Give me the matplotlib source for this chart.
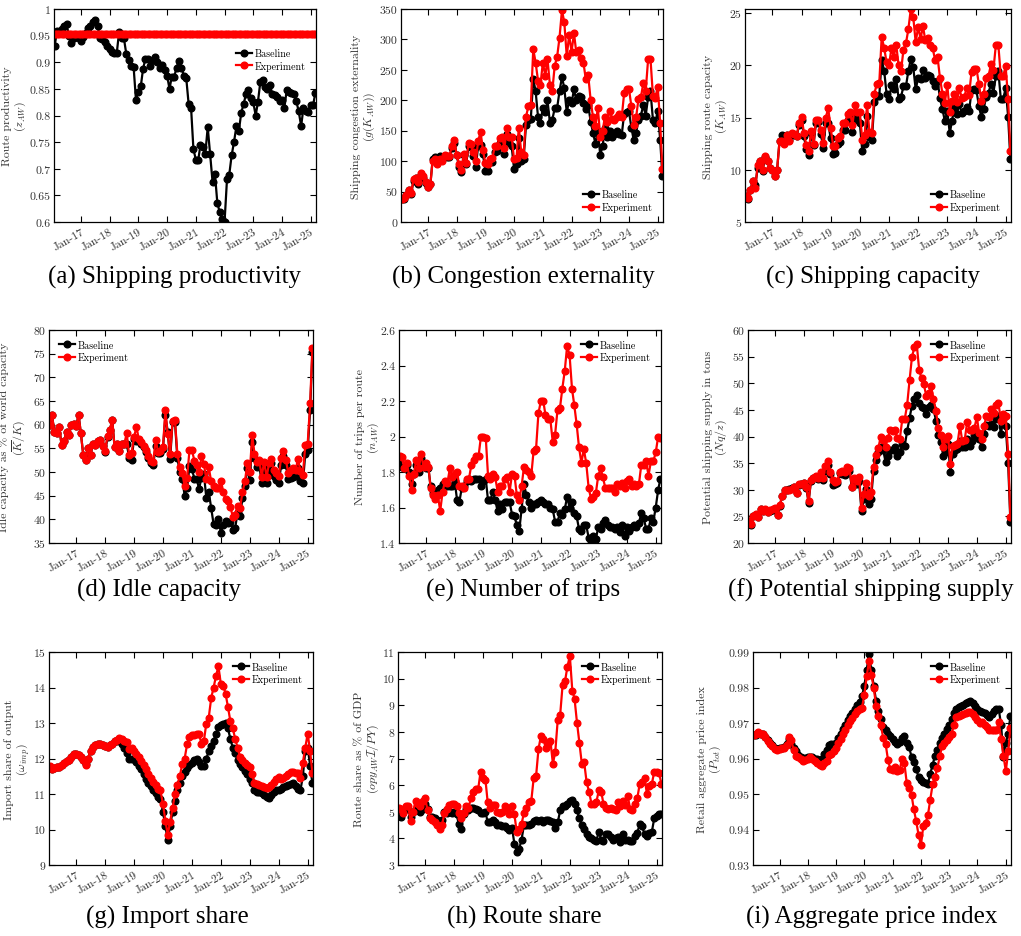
import matplotlib
matplotlib.use("Agg")
import matplotlib.pyplot as plt
import matplotlib.dates as mdates
from matplotlib.ticker import FuncFormatter, MultipleLocator
import pandas as pd

plt.rcParams['mathtext.fontset'] = 'cm'
plt.rcParams['font.family'] = ['cmr10', 'DejaVu Serif']
plt.rcParams['axes.formatter.use_mathtext'] = True
plt.rcParams['axes.unicode_minus'] = False

START = '2016-02-01'

# ---------------- data (monthly, Feb-2016 .. Mar-2025) ----------------
a_base = [0.930,0.958,0.955,0.962,0.968,0.972,0.950,0.936,0.945,0.950,
          0.945,0.940,0.948,0.955,0.965,0.968,0.975,0.980,0.968,0.945,
          0.943,0.938,0.930,0.925,0.920,0.918,0.917,0.957,0.945,0.945,
          0.915,0.905,0.893,0.892,0.830,0.845,0.855,0.887,0.907,0.907,
          0.893,0.905,0.910,0.900,0.890,0.895,0.885,0.875,0.850,0.873,
          0.873,0.890,0.903,0.890,0.875,0.870,0.822,0.815,0.737,0.717,
          0.717,0.745,0.740,0.728,0.778,0.728,0.676,0.690,0.636,0.618,
          0.605,0.600,0.680,0.688,0.725,0.750,0.780,0.770,0.805,0.822,
          0.840,0.848,0.832,0.825,0.800,0.825,0.863,0.866,0.853,0.850,
          0.858,0.840,0.838,0.835,0.828,0.830,0.815,0.847,0.845,0.843,
          0.840,0.827,0.808,0.780,0.815,0.808,0.806,0.820,0.820,0.843]
a_exp_level = 0.953
a_exp = [a_exp_level] * len(a_base)

b_base = [37,38,44,52,46,68,72,63,78,73,
          64,58,62,103,107,97,108,103,108,106,
          106,122,130,110,90,82,110,95,125,123,
          108,90,125,127,112,84,83,100,98,115,
          117,130,133,112,145,130,125,87,95,138,
          100,103,160,168,170,235,215,172,163,188,
          180,200,163,168,187,187,215,238,220,180,
          200,195,218,200,207,205,195,185,192,165,
          147,128,150,110,125,155,140,150,140,145,
          150,145,143,178,180,182,155,135,146,168,
          175,192,175,205,215,168,163,183,135,76]
b_exp = [38,40,45,53,47,70,73,65,80,75,
         65,57,63,100,103,96,103,100,110,108,
         108,125,135,110,95,85,112,97,130,128,
         115,100,133,148,118,97,95,103,105,125,
         125,138,140,122,155,140,140,103,105,155,
         115,110,173,190,192,284,262,232,225,262,
         240,268,225,215,257,271,303,348,328,272,
         307,280,310,280,283,270,262,235,241,200,
         172,157,188,140,150,173,165,183,170,168,
         173,178,172,212,218,219,190,160,172,202,
         205,228,215,268,268,207,204,222,163,87]

c_base = [7.5,7.2,8.1,8.9,8.5,10.2,10.8,9.9,11.2,10.8,
          10.2,10.0,9.4,10.0,12.8,13.3,13.2,13.3,12.9,13.4,
          13.3,13.2,14.3,14.8,13.2,12.0,11.4,13.5,12.4,14.5,
          14.6,13.4,12.1,14.5,14.5,13.0,11.5,11.6,12.5,12.7,
          13.8,13.8,14.8,15.0,13.6,15.2,14.8,14.5,11.8,12.5,
          15.2,13.1,12.9,16.5,17.1,17.1,20.5,19.5,17.3,16.8,
          18.1,17.7,18.7,16.8,17.0,18.0,18.0,19.5,20.6,19.8,
          17.7,18.8,18.7,19.6,18.8,19.1,19.0,18.5,18.0,18.5,
          16.9,15.8,14.7,15.6,13.5,14.7,16.0,15.3,16.3,15.4,
          15.6,16.0,15.6,17.6,17.7,17.6,16.1,15.1,15.8,17.0,
          17.4,18.2,17.4,19.0,19.5,16.8,16.8,17.8,15.1,11.0]
c_exp = [7.5,7.3,8.1,8.9,8.3,10.5,10.8,10.0,11.3,10.8,
         10.2,10.0,9.4,10.0,12.8,12.8,12.5,13.3,12.8,13.5,
         13.4,13.2,14.5,15.1,13.5,12.4,11.8,13.7,12.5,14.8,
         14.8,13.8,12.6,15.0,15.9,14.0,12.3,12.3,13.0,13.2,
         14.5,14.5,15.3,15.5,14.3,16.2,15.5,15.5,12.9,13.3,
         16.2,13.6,13.5,17.3,18.2,18.3,22.7,21.7,20.3,20.0,
         21.7,20.8,22.0,20.0,19.5,21.5,22.1,23.5,25.4,24.6,
         22.2,23.7,22.5,23.8,22.4,22.6,22.0,21.7,20.5,20.8,
         18.8,17.3,16.4,18.1,15.5,16.6,17.3,16.5,17.8,16.9,
         17.0,17.8,17.2,19.4,19.7,19.7,18.2,16.6,17.3,18.8,
         19.0,20.1,19.6,22.0,22.0,19.0,19.0,19.9,16.8,11.8]

d_base = [60,62,58.5,58.3,59.6,55.6,56.5,58.5,57.8,60,
          60.2,59.8,62,58.2,53.5,52.6,55,53.6,56,55.8,
          56.5,56.8,55.5,54.2,57.3,58.8,61,55.2,56,54.5,
          56,56,56,53,52.6,57,56.5,56.5,56,55.2,
          54.3,53,52,51.5,55.5,54,54,54.8,62,58.5,
          52.8,60.5,60.5,53,50,48.5,45,46.6,51.2,50.6,
          48.6,48.6,46.4,48.8,49.6,44.6,45.8,42.4,39,38.9,
          40,37.2,38.8,39.6,39.3,39.5,37.8,38.2,41.5,40.7,
          44.6,47,50.8,48.4,56.4,53,51.1,51.5,47.6,51,
          47.6,50,52,49.1,48.3,47.6,51.4,53.4,51.5,48.6,
          48.8,49,49.2,50.8,48,47.6,53.8,54.6,63.2,75.4]
d_exp = [60,62,58.5,58.3,59.6,55.6,56.5,58.5,57.8,60,
         60.2,59.8,62,58.2,53.5,52.6,55,53.6,56,55.8,
         56.5,56.8,55.5,54.5,57.6,58.8,61,55.2,56,54.5,
         56,56,58.2,53.5,54,57.3,59.6,57,56.3,55.5,
         54.6,53.3,52.4,52.1,56.8,54.2,54.5,55.2,63,58,
         53.8,60.7,61,53.8,51,49.8,47,48.8,54.6,54.6,
         52.4,51.5,50,53.3,51.7,48.5,51,48,47,46.6,
         46.6,48.2,45.8,44.2,43.8,42.7,40.5,41,42.9,42.5,
         45.8,48,51.8,50,57.8,53.9,52.2,52.5,49,52.2,
         48.9,51.8,52.7,50.4,49.8,49.2,52.9,54.4,52.5,49.8,
         50.4,50.8,50.5,52.7,50.2,49.3,55.6,56,64.5,76.2]

e_base = [1.88,1.83,1.82,1.84,1.80,1.73,1.79,1.84,1.80,1.88,
          1.84,1.82,1.82,1.72,1.68,1.68,1.70,1.71,1.73,1.73,
          1.72,1.72,1.72,1.75,1.64,1.63,1.71,1.72,1.75,1.76,
          1.75,1.76,1.76,1.76,1.72,1.75,1.76,1.64,1.64,1.69,
          1.64,1.58,1.62,1.59,1.63,1.63,1.63,1.56,1.55,1.50,
          1.47,1.59,1.73,1.67,1.63,1.60,1.62,1.62,1.63,1.64,
          1.63,1.62,1.62,1.60,1.59,1.52,1.52,1.57,1.56,1.59,
          1.66,1.60,1.63,1.57,1.55,1.48,1.47,1.50,1.50,1.43,
          1.41,1.44,1.42,1.49,1.48,1.51,1.53,1.50,1.49,1.49,
          1.48,1.49,1.46,1.50,1.44,1.49,1.47,1.49,1.50,1.49,
          1.51,1.57,1.54,1.48,1.48,1.54,1.52,1.60,1.70,1.76]
e_exp = [1.89,1.885,1.82,1.85,1.78,1.70,1.79,1.87,1.82,1.90,
         1.83,1.85,1.83,1.71,1.67,1.65,1.67,1.58,1.69,1.75,
         1.74,1.82,1.77,1.79,1.80,1.72,1.72,1.71,1.76,1.76,
         1.84,1.87,1.89,1.89,2.00,2.00,1.99,1.78,1.76,1.79,
         1.77,1.69,1.72,1.72,1.76,1.77,1.69,1.79,1.78,1.67,
         1.64,1.72,1.83,1.81,1.80,1.78,1.92,1.93,2.13,2.20,
         2.20,2.12,2.10,2.10,1.97,2.01,2.15,2.16,2.27,2.37,
         2.51,2.46,2.27,2.18,2.07,1.94,1.85,1.93,1.85,1.71,
         1.65,1.66,1.68,1.78,1.82,1.77,1.71,1.71,1.71,1.71,
         1.69,1.73,1.72,1.74,1.71,1.75,1.76,1.72,1.73,1.72,
         1.73,1.84,1.84,1.86,1.78,1.86,1.86,1.91,2.00,1.99]

f_base = [24.0,23.3,25.0,25.2,24.8,26.3,26.1,26.2,25.8,26.0,
          26.2,26.4,25.2,27.0,28.8,30.0,30.0,30.2,30.4,30.6,
          29.3,30.9,31.0,31.2,30.4,27.6,31.7,32.2,32.4,32.1,
          32.6,31.8,33.6,34.6,32.9,30.8,31.0,31.2,33.2,32.9,
          32.8,33.6,33.5,30.5,31.0,31.0,31.6,26.0,28.3,30.2,
          27.3,28.3,33.6,35.6,37.0,38.0,37.5,35.2,36.3,37.5,
          37.5,38.0,36.4,37.0,38.5,38.2,41.0,43.5,45.8,47.1,
          47.8,46.3,45.5,45.4,44.2,45.5,46.0,45.2,43.0,40.3,
          39.0,36.4,37.1,38.5,33.3,36.7,37.5,37.7,39.2,38.0,
          38.1,39.6,38.3,39.2,40.3,40.3,39.5,38.0,40.5,42.1,
          42.0,42.4,41.8,43.3,43.9,40.4,43.3,42.0,35.0,24.0]
f_exp = [24.2,23.5,25.0,25.4,24.8,26.3,26.1,26.3,25.8,26.2,
         26.3,26.5,25.2,27.1,28.8,29.9,29.9,30.0,30.2,30.6,
         29.3,31.0,31.1,31.3,30.5,27.8,31.8,32.3,32.6,32.3,
         33.3,32.2,34.5,35.4,33.4,31.8,31.4,31.7,33.4,33.6,
         33.3,34.3,34.1,30.6,32.2,31.6,32.4,26.6,29.2,31.3,
         28.9,29.6,34.3,36.6,37.8,40.0,39.3,38.1,39.8,41.3,
         41.0,41.2,39.7,39.6,43.3,43.2,45.9,50.6,54.9,56.8,
         57.3,52.4,50.9,49.8,47.6,48.2,49.4,47.1,44.8,41.6,
         40.3,38.0,39.6,40.1,34.9,38.2,38.4,38.6,42.0,39.1,
         39.4,42.8,41.3,41.2,41.6,43.6,40.6,39.6,41.9,43.8,
         43.7,45.2,44.5,45.9,46.3,43.0,44.3,43.8,36.8,24.8]

g_base = [11.77,11.7,11.73,11.75,11.76,11.82,11.88,11.92,11.97,12.05,
          12.13,12.12,12.1,12.05,11.95,11.85,12.0,12.2,12.32,12.37,
          12.4,12.42,12.38,12.35,12.32,12.38,12.42,12.48,12.5,12.53,
          12.4,12.3,12.15,12.0,12.0,11.98,11.9,11.8,11.7,11.55,
          11.42,11.32,11.22,11.12,11.02,10.92,10.85,10.5,10.1,9.7,
          10.1,10.5,10.8,11.1,11.3,11.5,11.62,11.72,11.82,11.88,
          11.95,12.0,11.9,11.8,11.8,12.0,12.2,12.35,12.5,12.7,
          12.9,12.95,12.98,13.0,12.85,12.55,12.3,12.15,11.95,11.85,
          11.75,11.65,11.55,11.42,11.3,11.12,11.07,11.05,11.02,10.98,
          10.92,10.9,10.97,11.05,11.1,11.12,11.15,11.2,11.22,11.25,
          11.28,11.3,11.22,11.15,11.1,11.5,12.2,12.3,11.8,11.3]
g_exp = [11.78,11.7,11.73,11.75,11.76,11.82,11.88,11.92,11.97,12.05,
         12.13,12.12,12.1,12.05,11.95,11.82,12.0,12.2,12.32,12.37,
         12.4,12.42,12.38,12.35,12.32,12.38,12.42,12.48,12.52,12.57,
         12.55,12.48,12.47,12.28,12.3,12.22,12.12,12.05,11.93,11.82,
         11.7,11.55,11.45,11.35,11.25,11.15,11.1,10.72,10.25,9.85,
         10.22,10.6,11.0,11.25,11.5,11.85,12.0,12.4,12.6,12.65,
         12.65,12.7,12.7,12.4,12.5,12.98,13.15,13.7,14.0,14.32,
         14.6,14.1,14.05,13.83,13.45,13.05,12.85,12.55,12.3,12.05,
         11.95,11.88,11.82,11.75,11.55,11.3,11.27,11.25,11.23,11.2,
         11.18,11.2,11.25,11.35,11.42,11.48,11.42,11.45,11.52,11.55,
         11.62,11.62,11.6,11.6,11.45,11.88,12.3,12.7,12.2,11.6]

h_base = [4.85,4.8,5.0,5.15,5.1,4.8,5.0,5.05,5.1,5.0,
          5.1,5.3,5.1,4.8,4.8,4.75,4.7,4.65,4.7,5.0,
          4.95,5.0,4.95,5.0,4.9,4.55,4.35,4.9,5.1,5.05,
          5.15,5.15,5.1,5.05,4.95,4.95,5.0,4.6,4.6,4.7,
          4.6,4.5,4.5,4.45,4.45,4.4,4.3,4.4,3.8,3.5,
          3.6,3.95,4.5,4.5,4.5,4.55,4.65,4.7,4.65,4.7,
          4.6,4.7,4.7,4.65,4.6,4.4,4.6,5.05,5.2,5.2,
          5.3,5.4,5.45,5.3,5.05,4.75,4.5,4.35,4.15,4.05,
          4.0,3.95,3.9,4.25,3.95,3.9,4.15,4.15,4.05,3.95,
          4.0,4.05,3.85,4.15,3.95,3.95,3.9,3.9,4.1,4.2,
          4.55,4.45,4.15,4.1,4.2,4.25,4.75,4.85,4.9,4.9]
h_exp = [5.15,5.1,4.95,5.2,5.2,4.65,5.0,5.4,5.3,5.2,
         5.4,5.5,5.05,4.75,4.7,4.6,4.5,4.35,4.5,4.95,
         5.1,5.25,5.3,5.3,5.2,4.95,4.75,4.95,5.2,5.15,
         5.5,5.75,5.85,5.85,6.5,6.25,6.2,5.35,5.15,5.25,
         5.25,5.0,4.95,5.0,5.2,5.15,4.9,5.2,4.9,4.25,
         4.35,4.55,4.95,5.15,5.35,5.4,6.25,6.35,7.35,7.85,
         7.75,7.4,7.55,7.65,6.8,7.25,8.45,8.65,9.75,9.9,
         10.45,10.85,9.55,9.25,8.35,7.6,6.8,6.85,6.1,5.75,
         5.3,5.3,5.35,5.8,5.75,5.3,5.15,5.1,5.15,5.1,
         5.05,5.35,5.2,5.4,5.25,5.6,5.1,5.05,5.3,5.5,
         6.05,6.1,6.25,5.65,5.95,6.05,6.5,6.5,6.45,6.05]

i_base = [0.9665,0.9665,0.9672,0.9668,0.9668,0.966,0.9652,0.9645,0.9638,0.963,
          0.9627,0.963,0.963,0.9632,0.964,0.9655,0.964,0.963,0.962,0.961,
          0.9603,0.96,0.9602,0.9605,0.9605,0.9605,0.96,0.9598,0.9597,0.9598,
          0.9612,0.9625,0.9638,0.964,0.964,0.9645,0.9658,0.9668,0.9682,0.9695,
          0.9708,0.972,0.9728,0.974,0.975,0.9758,0.9775,0.9805,0.985,0.9893,
          0.9848,0.9805,0.9762,0.9735,0.971,0.969,0.968,0.967,0.9662,0.9655,
          0.9647,0.964,0.9647,0.9658,0.9663,0.9645,0.9632,0.9605,0.959,0.957,
          0.9548,0.954,0.9535,0.953,0.9528,0.9557,0.9582,0.9608,0.9625,0.9645,
          0.9658,0.9668,0.9682,0.9695,0.971,0.9728,0.974,0.9745,0.9748,0.9752,
          0.9755,0.976,0.9762,0.9755,0.9748,0.974,0.9735,0.973,0.9727,0.9722,
          0.9718,0.9725,0.9733,0.974,0.974,0.9695,0.9605,0.9645,0.967,0.972]
i_exp = [0.9665,0.9668,0.9675,0.967,0.9668,0.966,0.965,0.9642,0.9635,0.9627,
         0.9625,0.9628,0.963,0.963,0.9638,0.966,0.9652,0.9625,0.9608,0.9603,
         0.9598,0.9593,0.9595,0.96,0.9603,0.9598,0.9593,0.9588,0.9583,0.958,
         0.9588,0.9593,0.961,0.9612,0.9622,0.963,0.9645,0.9655,0.967,0.968,
         0.9695,0.9705,0.9715,0.9725,0.9735,0.974,0.9742,0.978,0.9832,0.9875,
         0.9835,0.98,0.9748,0.972,0.9695,0.9657,0.9642,0.9597,0.957,0.9568,
         0.9575,0.9565,0.9567,0.96,0.9587,0.9532,0.9518,0.9498,0.9457,0.9423,
         0.9385,0.9357,0.941,0.9418,0.944,0.9484,0.9527,0.9548,0.9572,0.9607,
         0.9635,0.9645,0.9652,0.966,0.967,0.9693,0.9717,0.972,0.9722,0.9725,
         0.9728,0.973,0.9732,0.9725,0.9717,0.9708,0.97,0.9702,0.9695,0.9688,
         0.968,0.968,0.968,0.968,0.9702,0.9655,0.9608,0.9565,0.962,0.9685]

captions = ['(a) Shipping productivity', '(b) Congestion externality', '(c) Shipping capacity',
            '(d) Idle capacity', '(e) Number of trips', '(f) Potential shipping supply',
            '(g) Import share', '(h) Route share', '(i) Aggregate price index']
ylabels = ['Route productivity\n$(z_{AW})$',
           'Shipping congestion externality\n$(g(K_{AW}))$',
           'Shipping route capacity\n$(K_{AW})$',
           'Idle capacity as % of world capacity\n$(\\overline{K}/K)$',
           'Number of trips per route\n$(n_{AW})$',
           'Potential shipping supply in tons\n$(Nq/z)$',
           'Import share of output\n$(\\omega_{imp})$',
           'Route share as % of GDP\n$(op y_{AW}\\mathcal{I}/PY)$',
           'Retail aggregate price index\n$(P_{tot})$']
series = [(a_base, a_exp), (b_base, b_exp), (c_base, c_exp),
          (d_base, d_exp), (e_base, e_exp), (f_base, f_exp),
          (g_base, g_exp), (h_base, h_exp), (i_base, i_exp)]
ylims = [(0.6, 1.0), (0, 350), (5, 25.4), (35, 80), (1.4, 2.6), (20, 60), (9, 15), (3, 11), (0.93, 0.99)]
ysteps = [0.05, 50, 5, 5, 0.2, 5, 1, 1, 0.01]
legend_locs = ['upper right', 'lower right', 'lower right', 'upper left', 'upper right',
               'upper right', 'upper right', 'upper right', 'upper right']
legend_anchor = [(1.0, 0.86), None, None, None, None, None, None, None, None]

# axes rectangles in pixels: (x0, x1, ytop, ybottom)
W, H = 1021, 937
rects = [(54, 316, 10, 223), (401, 663, 10, 223), (745, 1011, 10, 223),
         (49, 313, 331, 544), (399, 661, 331, 544), (748, 1011, 331, 544),
         (49, 313, 653, 866), (398, 662, 653, 866), (753, 1011, 653, 866)]
# right edge of the y label block, pixels left of the axes
ylab_off = [26, 24, 16, 21, 18, 19, 17, 17, 30]
cap_pos = [(174, 277), (523, 277), (873, 277),
           (159, 590), (523, 590), (871, 590),
           (167, 917), (524, 917), (872, 917)]

fig = plt.figure(figsize=(W / 100, H / 100), dpi=100)
txtcol = '#333333'

for k in range(9):
    x0, x1, yt, yb = rects[k]
    ax = fig.add_axes([x0 / W, 1 - yb / H, (x1 - x0) / W, (yb - yt) / H])
    base, exp = series[k]
    dates = pd.date_range(START, periods=len(base), freq='MS').to_pydatetime()
    ax.plot(dates, base, '-o', color='black', lw=1.6, ms=4.8, label='Baseline')
    ax.plot(dates, exp, '-o', color='red', lw=1.6, ms=4.8, label='Experiment')
    ax.set_xlim(dates[0] - pd.Timedelta(days=8), dates[-1] + pd.Timedelta(days=8))
    ax.set_ylim(*ylims[k])
    ax.yaxis.set_major_locator(MultipleLocator(ysteps[k]))
    ax.yaxis.set_major_formatter(FuncFormatter(lambda v, p: '%g' % round(v, 6)))
    ax.xaxis.set_major_locator(mdates.YearLocator(1, month=1, day=1))
    ax.xaxis.set_major_formatter(mdates.DateFormatter('%b-%y'))
    ax.tick_params(direction='in', top=True, right=True, length=4, width=0.8,
                   labelsize=8.5, labelcolor=txtcol)
    ax.tick_params(axis='y', pad=2.5)
    ax.tick_params(axis='x', pad=3)
    for lab in ax.get_xticklabels():
        lab.set_rotation(30)
        lab.set_ha('right')
        lab.set_rotation_mode('anchor')
    for s in ax.spines.values():
        s.set_linewidth(0.9)
    ax.set_ylabel(ylabels[k], fontsize=8.6, color=txtcol, linespacing=1.1)
    ax.yaxis.set_label_coords(-ylab_off[k] / (x1 - x0), 0.5)
    kw = dict(loc=legend_locs[k], fontsize=7.2, frameon=False, handlelength=1.6,
              handletextpad=0.3, borderaxespad=0.6, labelspacing=0.25)
    if legend_anchor[k] is not None:
        kw['bbox_to_anchor'] = legend_anchor[k]
    ax.legend(**kw)
    cx, cy = cap_pos[k]
    fig.text(cx / W, 1 - cy / H, captions[k], ha='center', va='center',
             fontsize=18, family='Liberation Serif')

fig.savefig('out.png', dpi=100)
